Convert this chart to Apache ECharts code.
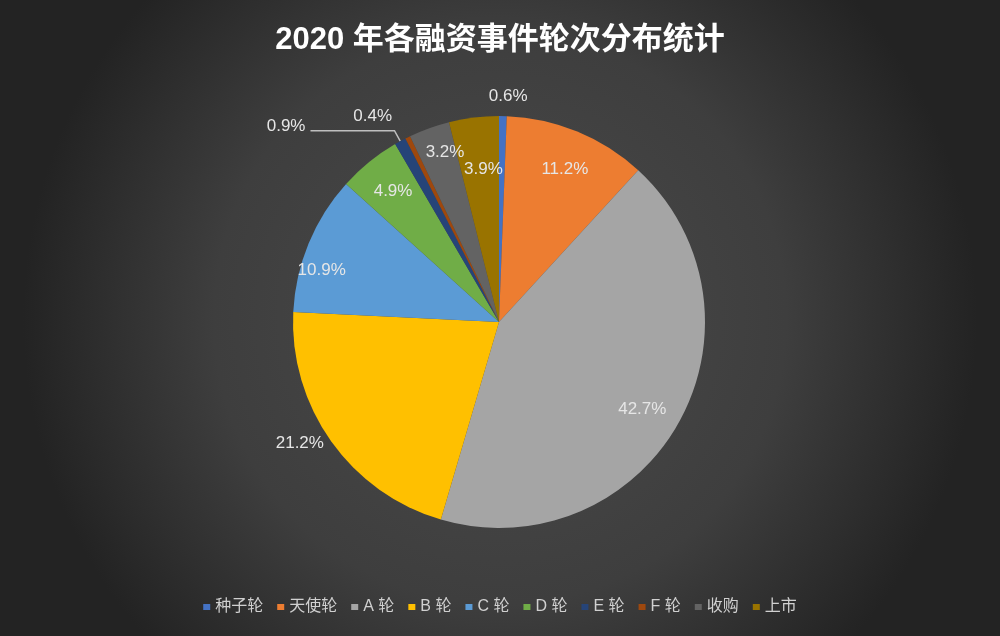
<!DOCTYPE html>
<html>
<head>
<meta charset="utf-8">
<script src="https://cdn.jsdelivr.net/npm/echarts@6/dist/echarts.min.js"></script>
<style>
html,body{margin:0;padding:0;}
#c{width:1000px;height:636px;}
</style>
</head>
<body>
<div id="c"></div>
<script>
var titleText = '2020 年各融资事件轮次分布统计';
var categories = ['种子轮', '天使轮', 'A 轮', 'B 轮', 'C 轮', 'D 轮', 'E 轮', 'F 轮', '收购', '上市'];
var values = [0.6, 11.2, 42.7, 21.2, 10.9, 4.9, 0.9, 0.4, 3.2, 3.9];
var colors = ['#4472C4', '#ED7D31', '#A5A5A5', '#FFC000', '#5B9BD5', '#70AD47', '#264478', '#9E480E', '#636363', '#997300'];
// which labels sit outside the pie
var outside = [true, false, false, true, false, false, true, true, false, false];

var labelColor = '#e6e6e6';
var chart = echarts.init(document.getElementById('c'));

var outerData = categories.map(function (n, i) {
  var item = { name: n, value: values[i], itemStyle: { color: colors[i] } };
  if (outside[i]) {
    item.label = { show: true, position: 'outside' };
    if (i === 6) {
      item.labelLine = { show: true, length: 12, length2: 84, lineStyle: { color: '#bfbfbf', width: 1.5 } };
    } else if (i === 7) {
      item.labelLine = { show: false, length: 24, length2: 0 };
    } else if (i === 0) {
      item.labelLine = { show: false, length: 16, length2: 0 };
    } else {
      item.labelLine = { show: false, length: 10, length2: 0 };
    }
  } else {
    item.label = { show: false };
  }
  return item;
});

var innerData = categories.map(function (n, i) {
  return { name: n, value: values[i], label: { show: !outside[i] } };
});

// small nudges of inner label placement (by data index)
var innerNudge = { 4: [-22, 12], 8: [3, -12], 9: [5, 14], 2: [-3, 5], 1: [2, 3] };

chart.setOption({
  backgroundColor: {
    type: 'radial', x: 0.5, y: 0.5, r: 0.75,
    colorStops: [{ offset: 0, color: '#4b4b4b' }, { offset: 0.6, color: '#3e3e3e' }, { offset: 1, color: '#232323' }]
  },
  color: colors,
  title: {
    text: titleText, left: 'center', top: 20,
    textStyle: { color: '#ffffff', fontSize: 31, fontWeight: 'bold', fontFamily: 'Liberation Sans, Noto Sans CJK SC' }
  },
  legend: {
    bottom: 16, left: 'center', itemWidth: 7, itemHeight: 6, itemGap: 14, icon: 'rect',
    data: categories,
    textStyle: { color: '#d0d0d0', fontSize: 16, fontFamily: 'Liberation Sans, Noto Sans CJK SC' }
  },
  series: [{
    type: 'pie',
    center: [499, 322],
    radius: [0, 206],
    startAngle: 90,
    clockwise: true,
    avoidLabelOverlap: false,
    label: { color: labelColor, fontSize: 17, fontFamily: 'Liberation Sans', formatter: '{c}%' },
    itemStyle: { borderWidth: 0 },
    emphasis: { disabled: true },
    labelLayout: function (p) {
      if (p.dataIndex === 0) return { align: 'center', dy: -4 };
      if (p.dataIndex === 3) return { dx: 6, dy: -4 };
      if (p.dataIndex === 6) return { dy: -4 };
    },
    data: outerData
  }, {
    type: 'pie',
    center: [499, 322],
    radius: [124, 206],
    startAngle: 90,
    clockwise: true,
    silent: true,
    legendHoverLink: false,
    itemStyle: { color: 'rgba(0,0,0,0)', borderWidth: 0 },
    label: { position: 'inside', color: labelColor, fontSize: 17, fontFamily: 'Liberation Sans', formatter: '{c}%' },
    labelLine: { show: false },
    emphasis: { disabled: true },
    tooltip: { show: false },
    labelLayout: function (p) {
      var n = innerNudge[p.dataIndex];
      if (n) return { dx: n[0], dy: n[1] };
    },
    data: innerData
  }]
});
</script>
</body>
</html>
